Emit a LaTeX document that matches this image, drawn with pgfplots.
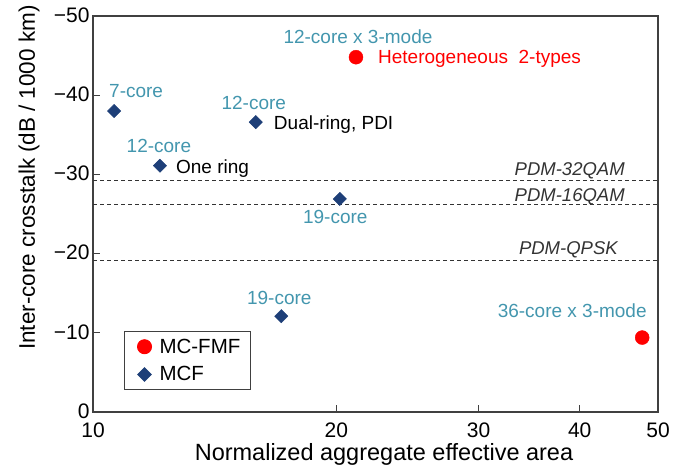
\documentclass[border=0pt]{standalone}
\usepackage{fontspec}
\setmainfont{Liberation Sans}
\usepackage{pgfplots}
\pgfplotsset{compat=1.18}
\definecolor{labteal}{HTML}{4396AE}
\definecolor{navy}{HTML}{1E3F78}
\definecolor{axgray}{HTML}{404040}
\definecolor{pdmgray}{HTML}{333333}
\pgfplotsset{myleg/.style={legend image code/.code={\path[draw=none, fill=none] (0pt,-6pt) rectangle (25pt,6pt); \draw[##1, only marks] plot coordinates {(12pt,0pt)};}}}
\begin{document}
\begin{tikzpicture}[x=1pt,y=1pt]
\begin{axis}[
  scale only axis, width=565pt, height=396pt,
  xmode=log, xmin=10, xmax=50, ymin=-50, ymax=0, y dir=reverse,
  xtick={10,20,30,40,50}, xticklabels={10,20,30,40,50},
  ytick={0,-10,-20,-30,-40,-50}, yticklabels={0,−10,−20,−30,−40,−50},
  minor xtick={},
  tick align=inside, major tick length=7pt,
  tick style={axgray, line width=1pt},
  xtick pos=bottom, ytick pos=left,
  axis line style={axgray, line width=1.6pt},
  ticklabel style={font=\fontsize{21}{24}\selectfont, text=black},
  xticklabel style={yshift=-7pt},
  yticklabel style={yshift=1pt},
  xlabel={Normalized aggregate effective area},
  ylabel={Inter-core crosstalk\hspace{0.25em}(dB / 1000 km)},
  every axis x label/.style={at={(axis description cs:0.515,-0.1212)}, anchor=base, font=\fontsize{23.5}{28}\selectfont},
  every axis y label/.style={at={(axis description cs:-0.1027,0.592)}, anchor=base, rotate=90, font=\fontsize{22.5}{27}\selectfont},
  legend style={at={(axis description cs:0.0549,0.205)}, anchor=north west,
    draw=axgray, line width=1pt, font=\fontsize{20.5}{23}\selectfont,
    row sep=8pt, inner xsep=8pt, inner ysep=5.5pt},
  legend cell align=left,
  clip=false,
]
\addplot[only marks, mark=*, mark size=7pt, color=red, myleg] coordinates {(21.15,-44.8) (47.8,-9.4)};
\addlegendentry{MC-FMF}
\addplot[only marks, mark=square*, mark size=4.7pt, mark options={rotate=45}, color=navy, myleg] coordinates {(10.62,-38) (15.9,-36.6) (12.1,-31.1) (20.2,-26.9) (17.1,-12.1)};
\addlegendentry{MCF}
% threshold lines
\addplot[forget plot, pdmgray, line width=0.8pt, dash pattern=on 4pt off 3pt] coordinates {(10,-29.2) (50,-29.2)};
\addplot[forget plot, pdmgray, line width=0.8pt, dash pattern=on 4pt off 3pt] coordinates {(10,-26.2) (50,-26.2)};
\addplot[forget plot, pdmgray, line width=0.8pt, dash pattern=on 4pt off 3pt] coordinates {(10,-19.2) (50,-19.2)};
\begin{scope}[every node/.style={font=\fontsize{18.5}{22}\selectfont\itshape, text=pdmgray, inner sep=0pt}]
\node[anchor=base east] at (axis cs:45.5,-29.92) {PDM-32QAM};
\node[anchor=base east] at (axis cs:45.5,-26.55) {PDM-16QAM};
\node[anchor=base east] at (axis cs:44.6,-19.95) {PDM-QPSK};
\end{scope}
\begin{scope}[every node/.style={font=\fontsize{19}{22}\selectfont, text=labteal, inner sep=0pt, anchor=base}]
\node[xshift=2pt, yshift=13.3pt] at (axis cs:21.15,-44.8) {12-core x 3-mode};
\node[xshift=22pt, yshift=13.4pt] at (axis cs:10.62,-38) {7-core};
\node[xshift=-2pt, yshift=13pt] at (axis cs:15.9,-36.6) {12-core};
\node[xshift=-1pt, yshift=13pt] at (axis cs:12.1,-31.1) {12-core};
\node[xshift=-4.5pt, yshift=-25pt] at (axis cs:20.2,-26.9) {19-core};
\node[xshift=-2pt, yshift=12pt] at (axis cs:17.1,-12.1) {19-core};
\node[xshift=-70pt, yshift=20pt] at (axis cs:47.8,-9.4) {36-core x 3-mode};
\end{scope}
\node[anchor=base west, inner sep=0pt, xshift=22pt, yshift=-6.7pt, font=\fontsize{19}{22}\selectfont, text=red] at (axis cs:21.15,-44.8) {Heterogeneous\ \ 2-types};
\node[anchor=base west, inner sep=0pt, xshift=18pt, yshift=-7.5pt, font=\fontsize{19}{22}\selectfont] at (axis cs:15.9,-36.6) {Dual-ring, PDI};
\node[anchor=base west, inner sep=0pt, xshift=16pt, yshift=-7.5pt, font=\fontsize{19}{22}\selectfont] at (axis cs:12.1,-31.1) {One ring};
\end{axis}
\pgfresetboundingbox
\path[use as bounding box] (-93,-60) rectangle (604,412);
\end{tikzpicture}
\end{document}
